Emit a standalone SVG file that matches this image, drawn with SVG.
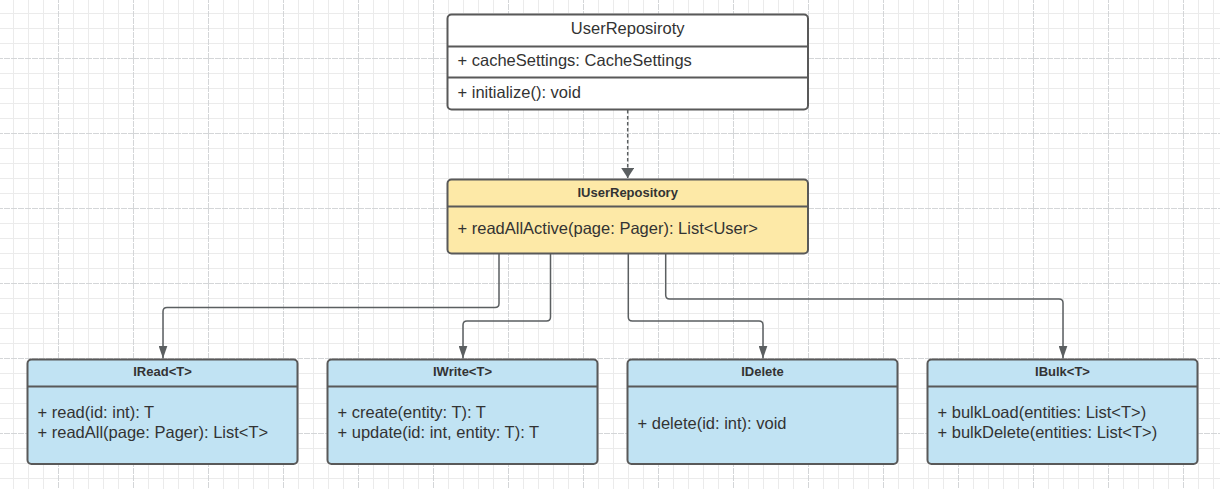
<svg xmlns="http://www.w3.org/2000/svg" width="1220" height="489" viewBox="0 0 1220 489">
  <defs>
    <!-- background grid: light minor lines every 15px, darker major lines every 75px -->
    <pattern id="grid" patternUnits="userSpaceOnUse" x="58" y="58" width="75" height="75">
      <path d="M15.5 0V75M30.5 0V75M45.5 0V75M60.5 0V75M0 15.5H75M0 30.5H75M0 45.5H75M0 60.5H75" stroke="#ebebeb" stroke-width="1" fill="none"/>
      <path d="M0.5 0V75M0 0.5H75" stroke="#d4d6d8" stroke-width="1" stroke-dasharray="6 1" fill="none"/>
    </pattern>
    <marker id="arrow" viewBox="0 0 10 13" refX="10" refY="6.5" markerUnits="userSpaceOnUse" markerWidth="10" markerHeight="13" orient="auto">
      <path d="M0 0L10 6.5L0 13Z" fill="#5b5f61"/>
    </marker>
    <marker id="arrowSmall" viewBox="0 0 13 9" refX="13" refY="4.5" markerUnits="userSpaceOnUse" markerWidth="13" markerHeight="9" orient="auto">
      <path d="M0 0L13 4.5L0 9Z" fill="#5b5f61"/>
    </marker>
  </defs>
  <style>
    .box { stroke: #595959; stroke-width: 2; }
    .plain { fill: #ffffff; }
    .iface { fill: #fde9a7; }
    .member { fill: #c1e3f3; }
    .div { stroke: #595959; stroke-width: 2; fill: none; }
    .t { font-family: "Liberation Sans", Arial, sans-serif; fill: #333333; font-size: 16.5px; }
    .title { font-family: "Liberation Sans", Arial, sans-serif; fill: #333333; font-size: 13px; font-weight: bold; text-anchor: middle; }
    .name { text-anchor: middle; }
    .edge { fill: none; stroke: #5b5f61; stroke-width: 1.5; }
    .dashed { stroke-dasharray: 3.5 2.5; }
  </style>

  <rect width="1220" height="489" fill="#ffffff"/>
  <rect width="1220" height="489" fill="url(#grid)"/>

  <!-- connectors -->
  <g id="connectors">
    <path class="edge dashed" d="M627.7 110V178" marker-end="url(#arrow)"/>
    <path class="edge" d="M499 254V303.5Q499 307.5 495 307.5H167Q163 307.5 163 311.5V358.5" marker-end="url(#arrowSmall)"/>
    <path class="edge" d="M550.5 254V317Q550.5 321 546.5 321H467Q463 321 463 325V358.5" marker-end="url(#arrowSmall)"/>
    <path class="edge" d="M628.3 254V317Q628.3 321 632.3 321H759Q763 321 763 325V358.5" marker-end="url(#arrowSmall)"/>
    <path class="edge" d="M665.7 254V295Q665.7 299 669.7 299H1059Q1063 299 1063 303V358.5" marker-end="url(#arrowSmall)"/>
  </g>

  <!-- concrete class -->
  <g id="UserReposiroty">
    <rect class="box plain" x="447.5" y="14.5" width="360.5" height="95" rx="4"/>
    <path class="div" d="M447.5 46.5H808M447.5 77.5H808"/>
    <text class="t name" x="627.7" y="34.3">UserReposiroty</text>
    <text class="t" x="457.5" y="66">+ cacheSettings: CacheSettings</text>
    <text class="t" x="457.5" y="97.5">+ initialize(): void</text>
  </g>

  <!-- aggregate interface -->
  <g id="IUserRepository">
    <rect class="box iface" x="447.5" y="179.5" width="360.5" height="74" rx="4"/>
    <path class="div" d="M447.5 206.5H808"/>
    <text class="title" x="627.7" y="196.5">IUserRepository</text>
    <text class="t" x="457.5" y="234.3">+ readAllActive(page: Pager): List&lt;User&gt;</text>
  </g>

  <!-- granular interfaces -->
  <g id="IRead">
    <rect class="box member" x="27.5" y="359.5" width="270" height="104.5" rx="4"/>
    <path class="div" d="M27.5 386.5H297.5"/>
    <text class="title" x="162.5" y="375.7">IRead&lt;T&gt;</text>
    <text class="t" x="37.5" y="418.3">+ read(id: int): T</text>
    <text class="t" x="37.5" y="438.3">+ readAll(page: Pager): List&lt;T&gt;</text>
  </g>

  <g id="IWrite">
    <rect class="box member" x="327.5" y="359.5" width="270" height="104.5" rx="4"/>
    <path class="div" d="M327.5 386.5H597.5"/>
    <text class="title" x="462.5" y="375.7">IWrite&lt;T&gt;</text>
    <text class="t" x="337.5" y="418.3">+ create(entity: T): T</text>
    <text class="t" x="337.5" y="438.3">+ update(id: int, entity: T): T</text>
  </g>

  <g id="IDelete">
    <rect class="box member" x="627.5" y="359.5" width="270" height="104.5" rx="4"/>
    <path class="div" d="M627.5 386.5H897.5"/>
    <text class="title" x="762.5" y="375.7">IDelete</text>
    <text class="t" x="637.5" y="428.7">+ delete(id: int): void</text>
  </g>

  <g id="IBulk">
    <rect class="box member" x="927.5" y="359.5" width="270" height="104.5" rx="4"/>
    <path class="div" d="M927.5 386.5H1197.5"/>
    <text class="title" x="1062.5" y="375.7">IBulk&lt;T&gt;</text>
    <text class="t" x="937.5" y="418.3">+ bulkLoad(entities: List&lt;T&gt;)</text>
    <text class="t" x="937.5" y="438.3">+ bulkDelete(entities: List&lt;T&gt;)</text>
  </g>
</svg>
